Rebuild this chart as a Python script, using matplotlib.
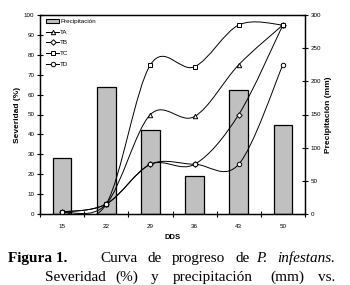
import numpy as np
import matplotlib
matplotlib.use("Agg")
import matplotlib.pyplot as plt
from matplotlib.path import Path
from matplotlib.patches import PathPatch, Patch
from matplotlib.lines import Line2D

# ---------------------------------------------
# Data
# ---------------------------------------------
dds = ["15", "22", "29", "36", "43", "50"]
precip = [85, 192, 127, 57, 187, 134]          # mm, right axis
ta = [1, 5, 50, 49, 75, 95]                    # severity %
tb = [1, 5, 25, 25, 50, 95]
tc = [1, 5, 75, 74, 95, 95]
td = [1, 5, 25, 25, 25, 75]

plt.rcParams['font.family'] = ['Liberation Sans', 'DejaVu Sans']

fig = plt.figure(figsize=(3.5, 2.85), dpi=100)
ax = fig.add_axes([40 / 350, 71 / 285, 265 / 350, 199 / 285])
ax2 = ax.twinx()
ax2.set_zorder(ax.get_zorder() - 1)
ax.patch.set_visible(False)

x = np.arange(len(dds))

# bars on the precipitation axis
ax2.bar(x, precip, width=0.42, color="#c0c0c0", edgecolor="black", linewidth=0.9)
ax2.set_ylim(0, 300)
ax2.set_yticks(range(0, 301, 50))


def smooth_path(xs, ys):
    # Excel-like smoothed line (Catmull-Rom as cubic Bezier)
    pts = np.column_stack([xs, ys]).astype(float)
    ext = np.vstack([pts[0], pts, pts[-1]])
    verts = [tuple(pts[0])]
    codes = [Path.MOVETO]
    for i in range(1, len(ext) - 2):
        p0, p1, p2, p3 = ext[i - 1], ext[i], ext[i + 1], ext[i + 2]
        c1 = p1 + (p2 - p0) / 6
        c2 = p2 - (p3 - p1) / 6
        verts += [tuple(c1), tuple(c2), tuple(p2)]
        codes += [Path.CURVE4] * 3
    return Path(verts, codes)


series = [("TA", ta, "^"), ("TB", tb, "D"), ("TC", tc, "s"), ("TD", td, "o")]
handles = [Patch(facecolor="#c0c0c0", edgecolor="black", linewidth=0.8, label="Precipitación")]
for name, vals, mk in series:
    ax.add_patch(PathPatch(smooth_path(x, vals), facecolor="none", edgecolor="black", linewidth=0.7))
    ms = 3.2 if mk != "D" else 2.8
    ax.plot(x, vals, linestyle="none", marker=mk, markersize=ms, markerfacecolor="white",
            markeredgecolor="black", markeredgewidth=0.7)
    handles.append(Line2D([], [], color="black", linewidth=0.7, marker=mk, markersize=ms,
                          markerfacecolor="white", markeredgewidth=0.7, label=name))

ax.set_xlim(-0.5, len(dds) - 0.5)
ax.set_ylim(0, 100)
ax.set_yticks(range(0, 101, 10))
ax.set_xticks(x)
ax.set_xticklabels(dds)
ax.set_xticks(np.arange(-0.5, len(dds), 1), minor=True)

ax.tick_params(axis="x", which="major", length=0, labelsize=4.5, pad=7)
ax.tick_params(axis="x", which="minor", length=4, width=0.8, direction="inout")
ax.tick_params(axis="y", length=4, width=0.8, direction="inout", labelsize=4.5, pad=2)
ax2.tick_params(axis="y", length=4, width=0.8, direction="inout", labelsize=4.5, pad=2)

for a in (ax, ax2):
    for s in a.spines.values():
        s.set_linewidth(0.9)

ax.set_xlabel("DDS", fontsize=5.5, fontweight="bold", labelpad=4)
ax.set_ylabel("Severidad (%)", fontsize=6, fontweight="bold", labelpad=2)
ax2.set_ylabel("Precipitación (mm)", fontsize=6, fontweight="bold", labelpad=3)

ax.legend(handles=handles, loc="upper left", bbox_to_anchor=(0.01, 1.0), frameon=False,
          fontsize=4.5, handlelength=2.0, handletextpad=0.2, labelspacing=0.85,
          borderaxespad=0.2)

# ---------------------------------------------
# Caption (words placed to mimic justified text)
# ---------------------------------------------
cap = dict(fontsize=11, family=["Liberation Serif", "DejaVu Serif"], va="baseline")
line1 = [("Figura 1.", 8, "bold", "normal"), ("Curva", 100, "normal", "normal"),
         ("de", 148, "normal", "normal"), ("progreso", 172, "normal", "normal"),
         ("de", 236, "normal", "normal"), ("P.", 256, "normal", "italic"),
         ("infestans.", 277, "normal", "italic")]
line2 = [("Severidad", 45, "normal", "normal"), ("(%)", 115, "normal", "normal"),
         ("y", 151, "normal", "normal"), ("precipitación", 173, "normal", "normal"),
         ("(mm)", 270, "normal", "normal"), ("vs.", 318, "normal", "normal")]
for words, yb in ((line1, 262), (line2, 281)):
    for w, xp, fw, st in words:
        fig.text(xp / 350, 1 - yb / 285, w, fontweight=fw, fontstyle=st, **cap)

fig.savefig("out.png", dpi=100)
